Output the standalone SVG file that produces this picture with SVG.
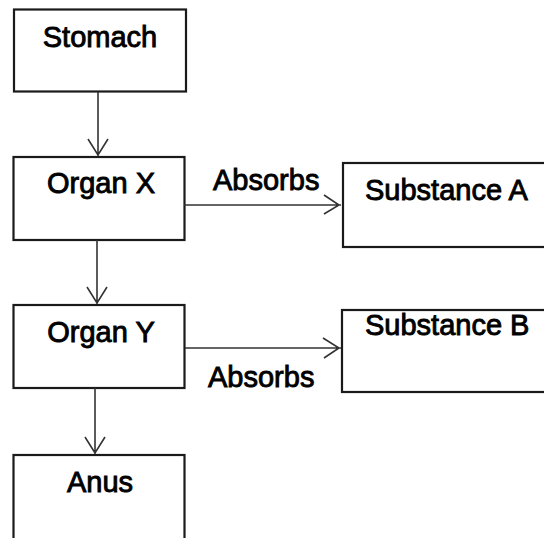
<svg xmlns="http://www.w3.org/2000/svg" width="544" height="538" viewBox="0 0 544 538">
<style>
.box{fill:#fff;stroke:#1a1a1a;stroke-width:2.2}
.lbl{font-family:"Liberation Sans",Arial,sans-serif;font-size:29px;fill:#000;stroke:#000;stroke-width:0.9}
.con{fill:none;stroke:#333;stroke-width:1.6}
</style>
<rect width="544" height="538" fill="#fff"/>
<g id="stomach"><rect class="box" x="14" y="9.5" width="172" height="82"/><text class="lbl" x="100" y="47" text-anchor="middle">Stomach</text></g>
<g id="organX"><rect class="box" x="13.5" y="157" width="171" height="83"/><text class="lbl" x="101" y="193" text-anchor="middle">Organ X</text></g>
<g id="organY"><rect class="box" x="13.5" y="305" width="171" height="83"/><text class="lbl" x="101" y="342" text-anchor="middle">Organ Y</text></g>
<g id="anus"><rect class="box" x="13.5" y="455" width="171" height="95"/><text class="lbl" x="100" y="492" text-anchor="middle">Anus</text></g>
<g id="substanceA"><rect class="box" x="343" y="163" width="215" height="84"/><text class="lbl" x="365" y="200">Substance A</text></g>
<g id="substanceB"><rect class="box" x="342" y="310" width="215" height="82"/><text class="lbl" x="365" y="335">Substance B</text></g>
<g id="connectors">
<path class="con" d="M98 92V156M88 139L98 155L108 139"/>
<path class="con" d="M97 240V304M87 287L97 303L107 287"/>
<path class="con" d="M95 388V454M85 437L95 453L105 437"/>
<path class="con" d="M184 205H341M324 195L339 205L324 214"/>
<path class="con" d="M185 348H341M323 338L339 348L324 358"/>
<text class="lbl" x="213" y="190">Absorbs</text>
<text class="lbl" x="208" y="387">Absorbs</text>
</g>
</svg>
